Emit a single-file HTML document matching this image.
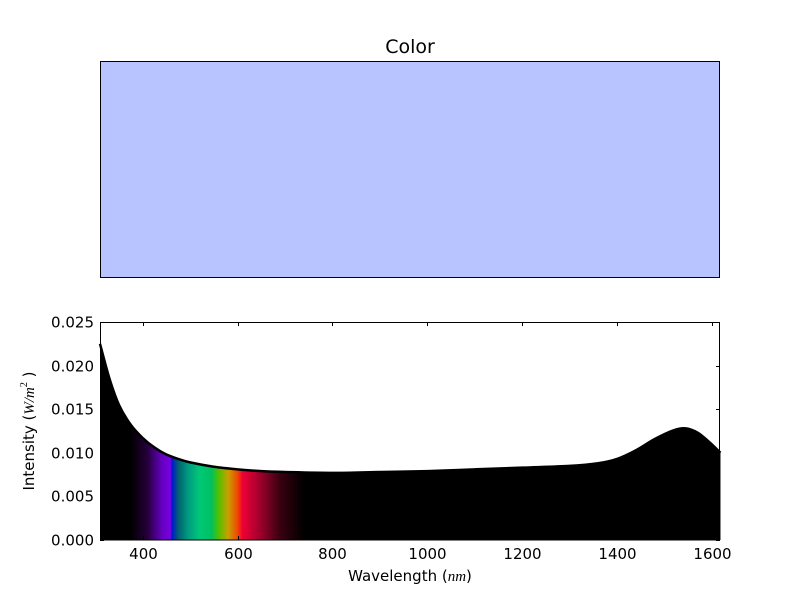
<!DOCTYPE html>
<html><head><meta charset="utf-8"><style>
body{margin:0;background:#fff;}
text{font-family:"DejaVu Sans","Liberation Sans",sans-serif;}
</style></head><body>
<svg id="chart" width="800" height="600" viewBox="0 0 800 600" xmlns="http://www.w3.org/2000/svg">
<rect width="800" height="600" fill="#fff"/>
<text x="410" y="53" font-size="19" text-anchor="middle">Color</text>
<rect x="100.5" y="61.5" width="619" height="216" fill="#b8c4ff" stroke="#000" stroke-width="1"/>
<defs>
<clipPath id="areaClip"><path id="clipPath" d=""/></clipPath>
<linearGradient id="spec" gradientUnits="userSpaceOnUse" x1="0" y1="0" x2="800" y2="0"></linearGradient>
</defs>
<g id="plot"></g>
<text transform="translate(34,431) rotate(-90)" font-size="15" text-anchor="middle">Intensity (<tspan font-style="italic" font-family="Liberation Serif,serif">W/m</tspan><tspan font-size="10" dy="-7" font-family="Liberation Serif,serif">2</tspan><tspan dy="7"> )</tspan></text>
<text x="410" y="581" font-size="15" text-anchor="middle">Wavelength (<tspan font-style="italic" font-family="Liberation Serif,serif">nm</tspan>)</text>
</svg>
<script>
const wavelengths=[310,330,350,375,400,425,450,475,500,550,600,650,700,800,900,1000,1100,1200,1300,1360,1400,1440,1480,1520,1545,1570,1595,1618];
const intensity=[0.0225,0.0185,0.0155,0.0132,0.0117,0.0106,0.0098,0.0093,0.0089,0.0084,0.0081,0.0079,0.0078,0.0077,0.0078,0.0079,0.0081,0.0083,0.0085,0.0088,0.0093,0.0103,0.0116,0.0126,0.0128,0.0123,0.0112,0.0100];
const xTicks=[400,600,800,1000,1200,1400,1600];
const yTicks=[0,0.005,0.010,0.015,0.020,0.025];
const yTickLabels=["0.000","0.005","0.010","0.015","0.020","0.025"];
const specNm=[375,410,440,458,462,475,495,520,545,560,580,600,610,640,690,740];
const specColors=["#000000","#25003a","#6400c0","#7800e0","#0018d0","#006070","#009a80","#00c878","#00c060","#50c000","#c8a000","#f04800","#f00035","#b00030","#380010","#000000"];
const X0=310,X1=1617,PX0=100,PX1=720,PY0=540,PY1=322,YMAX=0.025;
const NS="http://www.w3.org/2000/svg";
const sx=v=>PX0+(v-X0)/(X1-X0)*(PX1-PX0);
const sy=v=>PY0-v/YMAX*(PY0-PY1);
const g=document.getElementById('plot');
function mk(t,a){const e=document.createElementNS(NS,t);for(const k in a)e.setAttribute(k,a[k]);return e;}
const pts=wavelengths.map((w,i)=>[sx(w),sy(intensity[i])]);
let d=`M${pts[0][0]},${pts[0][1]}`;
for(let i=0;i<pts.length-1;i++){const p0=pts[Math.max(i-1,0)],p1=pts[i],p2=pts[i+1],p3=pts[Math.min(i+2,pts.length-1)];
d+=` C${p1[0]+(p2[0]-p0[0])/6},${p1[1]+(p2[1]-p0[1])/6} ${p2[0]-(p3[0]-p1[0])/6},${p2[1]-(p3[1]-p1[1])/6} ${p2[0]},${p2[1]}`;}
const area=d+` L${pts[pts.length-1][0]},${PY0} L${pts[0][0]},${PY0} Z`;
document.getElementById('clipPath').setAttribute('d',area);
const grad=document.getElementById('spec');
specNm.forEach((n,i)=>{const s=mk('stop',{offset:(sx(n)/800).toFixed(4),'stop-color':specColors[i]});grad.appendChild(s);});
const a1=mk('path',{d:area,fill:'#000'});


g.appendChild(a1);
const sr=mk('rect',{x:sx(375),y:PY1,width:sx(740)-sx(375),height:PY0-PY1,fill:'url(#spec)','clip-path':'url(#areaClip)'});


g.appendChild(sr);
const ln=mk('path',{d:d,fill:'none',stroke:'#000','stroke-width':2.5});


g.appendChild(ln);
const fr=mk('rect',{x:100.5,y:322.5,width:619,height:217.5,fill:'none',stroke:'#000'});


g.appendChild(fr);
xTicks.forEach(t=>{const x=Math.round(sx(t))+0.5;
g.appendChild(mk('line',{x1:x,x2:x,y1:540,y2:536,stroke:'#000'}));
g.appendChild(mk('line',{x1:x,x2:x,y1:322,y2:326,stroke:'#000'}));
const tx=mk('text',{x:x,y:559,'font-size':15,'text-anchor':'middle'});tx.textContent=t;


g.appendChild(tx);});
yTicks.forEach((t,i)=>{const y=Math.round(sy(t))+0.5;
g.appendChild(mk('line',{x1:100,x2:104,y1:y,y2:y,stroke:'#000'}));
g.appendChild(mk('line',{x1:720,x2:716,y1:y,y2:y,stroke:'#000'}));
const tx=mk('text',{x:94,y:y+5,'font-size':15,'text-anchor':'end'});tx.textContent=yTickLabels[i];


g.appendChild(tx);});
</script>
</body></html>
